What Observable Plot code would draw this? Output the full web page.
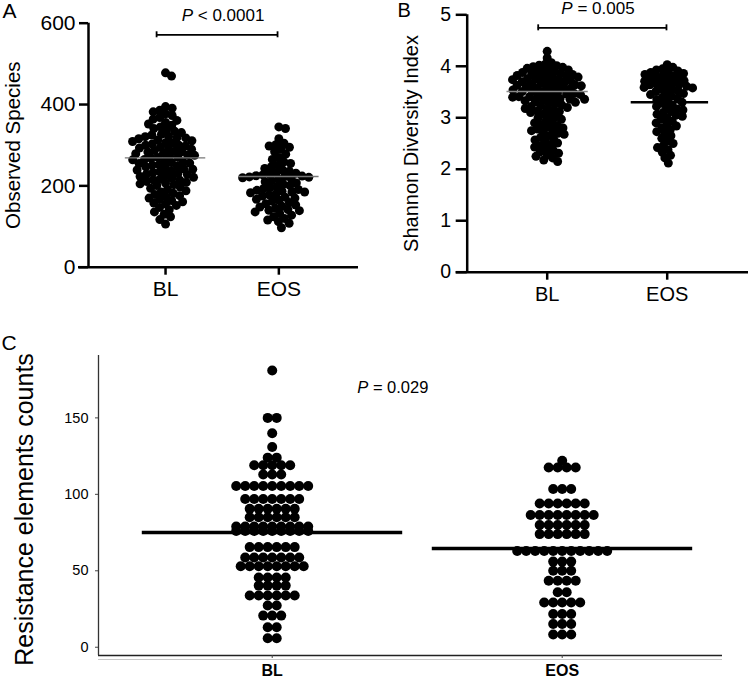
<!DOCTYPE html>
<html>
<head>
<meta charset="utf-8">
<script src="https://cdn.jsdelivr.net/npm/d3@7"></script>
<script src="https://cdn.jsdelivr.net/npm/@observablehq/plot@0.6"></script>
<style>
  body { margin: 0; background: #fff; }
  #fig { position: relative; width: 750px; height: 679px; overflow: hidden; }
</style>
</head>
<body>
<div id="fig"></div>
<script>
// ---- data ----
const groups = ["BL", "EOS"];

// A: observed species per sample
const observedBL = [478, 470,
  395, 391, 386, 382, 377, 373, 368, 364, 361, 356, 352, 349, 345, 341, 338, 334, 331,
  327, 325, 322, 321, 318, 318, 316, 313, 311, 309, 306, 305, 303, 300, 300, 298,
  295, 293, 291, 290, 287, 285, 284, 283, 280, 279, 276, 275, 273, 270, 270, 268,
  265, 264, 261, 259, 257, 256, 255, 252, 251, 248, 247, 244, 242, 241, 239, 236,
  235, 233, 230, 229, 228, 225, 223, 221, 219, 216, 215, 214, 211, 209, 207, 205,
  203, 201,
  197, 194, 191, 188, 185, 182, 179, 176, 173, 170, 167, 164, 161, 158, 155, 152,
  147, 141, 136, 130, 124, 117, 106];
const observedEOS = [345, 341, 316, 305, 301, 298, 295, 290, 284, 278,
  270, 265, 259, 255, 251, 247, 243, 239, 236, 233,
  231, 229, 227, 225, 224, 223, 222, 221, 220, 218,
  216, 213, 210, 207, 204, 201, 198, 196, 193, 191,
  189, 187, 185, 183, 180, 178, 175, 172, 170, 167,
  165, 162, 159, 156, 153, 150, 148, 145, 142, 139,
  136, 132, 128, 124, 120, 116, 112, 108, 97, 140, 185];
const observedMedian = [269, 223];

// B: Shannon diversity per sample
const shannonBL = [4.29, 4.16, 4.07,
  4.04, 4.02, 4.01, 3.99, 3.98, 3.96, 3.95, 3.93, 3.92, 3.90,
  3.89, 3.88, 3.86, 3.85, 3.84, 3.82, 3.81, 3.80, 3.79, 3.77,
  3.76, 3.75, 3.74, 3.72, 3.71, 3.70, 3.69, 3.68, 3.66, 3.65,
  3.64, 3.63, 3.62, 3.60, 3.59, 3.58, 3.57, 3.56, 3.54, 3.53,
  3.52, 3.51, 3.50, 3.48, 3.47, 3.46, 3.45, 3.43, 3.42, 3.41,
  3.40, 3.38, 3.37, 3.36, 3.34, 3.33, 3.31, 3.30,
  3.74, 3.83, 3.62, 3.27, 3.22, 3.16, 3.41, 3.36, 3.13,
  3.28, 3.25, 3.23, 3.20, 3.18, 3.15, 3.12, 3.10, 3.07, 3.05,
  3.02, 3.00, 2.97, 2.95, 2.92, 2.90, 2.87, 2.85, 2.82, 2.80,
  2.78, 2.75, 2.73, 2.70, 2.68, 2.65, 2.62, 2.60, 2.57, 2.54,
  2.51, 2.48, 2.46, 2.43, 2.40, 2.37, 2.34, 2.31, 2.28, 2.25,
  2.22, 2.18, 2.15, 2.76];
const shannonEOS = [4.03, 3.98, 3.95, 3.93, 3.91, 3.89, 3.88, 3.86, 3.84, 3.82,
  3.81, 3.79, 3.77, 3.76, 3.74, 3.72, 3.71, 3.69, 3.67, 3.66,
  3.65, 3.64, 3.62, 3.61, 3.59, 3.58, 3.56, 3.55, 3.53, 3.51,
  3.49, 3.47, 3.45, 3.42, 3.40, 3.38, 3.35, 3.33, 3.30, 3.28,
  3.25, 3.22, 3.20, 3.17, 3.15, 3.12, 3.10, 3.07, 3.05, 3.03, 3.00,
  2.97, 2.93, 2.90, 2.87, 2.84, 2.80, 2.77, 2.73, 2.70, 2.65,
  2.60, 2.55, 2.50, 2.46, 2.42, 2.38, 2.33, 2.27, 2.22, 2.12];
const shannonMedian = [3.51, 3.30];

// C: resistance element counts, binned (bin value, samples in bin)
const resistLevelsBL = [181, 150, 140, 131, 124, 119, 113, 105.5, 97, 90.5, 85, 79, 76, 65.5, 58.7, 53, 45.6, 40.3, 33.8, 27.3, 20.7, 13.1, 5.9];
const resistCountsBL = [1, 2, 1, 1, 2, 5, 3, 9, 7, 6, 6, 9, 9, 6, 7, 8, 4, 4, 6, 2, 3, 2, 2];
const resistLevelsEOS = [122, 117.5, 103.5, 94, 86.5, 80, 74, 63, 56, 50, 43.5, 36, 29.3, 21.7, 15.2, 8.3];
const resistCountsEOS = [1, 4, 3, 6, 8, 6, 6, 11, 3, 3, 4, 2, 5, 3, 3, 3];
const resistMedian = [75, 64.5];

const pLabels = ["P < 0.0001", "P = 0.005", "P = 0.029"];
const axisTitles = ["Observed Species", "Shannon Diversity Index", "Resistance elements counts"];
const panelLetters = ["A", "B", "C"];
const ticksA = [0, 200, 400, 600];
const ticksB = [0, 1, 2, 3, 4, 5];
const ticksC = [0, 50, 100, 150];

// ---- helpers ----
const FONT = "'Liberation Sans', Arial, Helvetica, sans-serif";
const fig = document.getElementById("fig");

// Beeswarm: place each value at the nearest free horizontal slot around its group centre
function swarm(series, sx, sy, minDist) {
  const out = [];
  series.forEach((vals, g) => {
    const cx = sx.apply(g);
    const placed = [];
    const order = vals.map(v => ({v, py: sy.apply(v)})).sort((a, b) => a.py - b.py);
    for (const p of order) {
      const near = placed.filter(q => Math.abs(q.py - p.py) < minDist);
      const cands = [0];
      for (const q of near) {
        const w = Math.sqrt(minDist * minDist - (q.py - p.py) ** 2);
        cands.push(q.px + w, q.px - w);
      }
      cands.sort((a, b) => Math.abs(a) - Math.abs(b));
      const px = cands.find(c => near.every(q => (q.px - c) ** 2 + (q.py - p.py) ** 2 >= minDist * minDist - 1e-6));
      placed.push({...p, px});
      out.push({group: g, value: p.v, x: sx.invert(cx + px)});
    }
  });
  return out;
}

// Dot plot: samples in the same bin sit side by side, centred on the group
function dotRows(levels, counts, g, sx, stepPx) {
  const cx = sx.apply(g);
  return levels.flatMap((v, i) =>
    d3.range(counts[i]).map(j => ({group: g, value: v, x: sx.invert(cx + (j - (counts[i] - 1) / 2) * stepPx)})));
}

// Italic "P" in the significance labels
function italicP(svg) {
  const ns = "http://www.w3.org/2000/svg";
  svg.querySelectorAll("text").forEach(t => {
    const s = t.textContent;
    if (/^P [<=]/.test(s)) {
      t.textContent = "";
      const p = document.createElementNS(ns, "tspan");
      p.setAttribute("font-style", "italic");
      p.textContent = "P";
      t.appendChild(p);
      t.appendChild(document.createTextNode(s.slice(1)));
    }
  });
}

function place(svg, left, top) {
  svg.style.position = "absolute";
  svg.style.left = left + "px";
  svg.style.top = top + "px";
  italicP(svg);
  fig.appendChild(svg);
}

const baseStyle = {background: "transparent", fontFamily: FONT, overflow: "visible", color: "#000"};
const intFormat = d => String(d);

// ---- Panel A ----
{
  const L = {width: 375, height: 310, ml: 88, mr: 17, mt: 22.7, mb: 43.3};
  const x = {type: "linear", domain: [-0.68, 1.703], range: [L.ml, L.width - L.mr]};
  const y = {type: "linear", domain: [0, 600], range: [L.height - L.mb, L.mt]};
  const sx = Plot.scale({x}), sy = Plot.scale({y});
  const dots = swarm([observedBL, observedEOS], sx, sy, 6.8);
  const cap = 3 / (sy.apply(0) - sy.apply(1));
  const bracketY = 571.5, bx = [-0.079, 0.9885];
  const svg = Plot.plot({
    width: L.width, height: L.height,
    marginLeft: L.ml, marginRight: L.mr, marginTop: L.mt, marginBottom: L.mb,
    x, y, style: baseStyle,
    marks: [
      Plot.ruleY([0], {insetLeft: -10, stroke: "#000", strokeWidth: 2.5}),
      Plot.ruleX([x.domain[0]], {y1: 0, y2: 600, stroke: "#000", strokeWidth: 2.5}),
      Plot.axisY({ticks: ticksA, tickFormat: intFormat, tickSize: 9, tickPadding: 4, fontSize: 21, strokeWidth: 2.5, label: null}),
      Plot.axisX({ticks: [0, 1], tickFormat: i => groups[i], tickSize: 8, tickPadding: 6, fontSize: 21, strokeWidth: 2.5, label: null}),
      Plot.dot(dots, {x: "x", y: "value", r: 4.5, fill: "#000"}),
      Plot.ruleY(observedMedian, {y: d => d, x1: (d, i) => i - 0.355, x2: (d, i) => i + 0.355, stroke: "#777", strokeWidth: 1.3}),
      Plot.ruleY([bracketY], {x1: bx[0], x2: bx[1], stroke: "#000", strokeWidth: 1.8}),
      Plot.ruleX(bx, {y1: bracketY - cap, y2: bracketY + cap, stroke: "#000", strokeWidth: 1.8}),
      Plot.text([pLabels[0]], {text: d => d, x: 0.5075, y: 604.9, lineAnchor: "bottom", fontSize: 17}),
      Plot.text([axisTitles[0]], {text: d => d, frameAnchor: "left", textAnchor: "middle", rotate: -90, dx: -75, fontSize: 20.5}),
      Plot.text([panelLetters[0]], {text: d => d, frameAnchor: "top-left", dx: -L.ml + 2, dy: -L.mt + 3, textAnchor: "start", lineAnchor: "top", fontSize: 21})
    ]
  });
  place(svg, 0, 0);
}

// ---- Panel B ----
{
  const L = {width: 375, height: 310, ml: 91.7, mr: 2, mt: 14.3, mb: 38.3};
  const x = {type: "linear", domain: [-0.6667, 1.6775], range: [L.ml, L.width - L.mr]};
  const y = {type: "linear", domain: [0, 5], range: [L.height - L.mb, L.mt]};
  const sx = Plot.scale({x}), sy = Plot.scale({y});
  const dots = swarm([shannonBL, shannonEOS], sx, sy, 6.2);
  const cap = 3 / (sy.apply(0) - sy.apply(1));
  const bracketY = 4.747, bx = [-0.075, 0.994];
  const svg = Plot.plot({
    width: L.width, height: L.height,
    marginLeft: L.ml, marginRight: L.mr, marginTop: L.mt, marginBottom: L.mb,
    x, y, style: baseStyle,
    marks: [
      Plot.ruleY([0], {insetLeft: -11, stroke: "#000", strokeWidth: 2.5}),
      Plot.ruleX([x.domain[0]], {y1: 0, y2: 5, stroke: "#000", strokeWidth: 2.5}),
      Plot.axisY({ticks: ticksB, tickFormat: intFormat, tickSize: 11, tickPadding: 5, fontSize: 19.5, strokeWidth: 2.5, label: null}),
      Plot.axisX({ticks: [0, 1], tickFormat: i => groups[i], tickSize: 8, tickPadding: 7, fontSize: 20, strokeWidth: 2.5, label: null}),
      Plot.dot(dots, {x: "x", y: "value", r: 4.5, fill: "#000"}),
      Plot.ruleY([shannonMedian[0]], {x1: -0.335, x2: 0.342, stroke: "#888", strokeWidth: 1.6}),
      Plot.ruleY([shannonMedian[1]], {x1: 1 - 0.3, x2: 1 + 0.345, stroke: "#000", strokeWidth: 2.4}),
      Plot.ruleY([bracketY], {x1: bx[0], x2: bx[1], stroke: "#000", strokeWidth: 1.8}),
      Plot.ruleX(bx, {y1: bracketY - cap, y2: bracketY + cap, stroke: "#000", strokeWidth: 1.8}),
      Plot.text([pLabels[1]], {text: d => d, x: 0.423, y: 5.025, lineAnchor: "bottom", fontSize: 17}),
      Plot.text([axisTitles[1]], {text: d => d, frameAnchor: "left", textAnchor: "middle", rotate: -90, dx: -55.7, fontSize: 20}),
      Plot.text([panelLetters[1]], {text: d => d, frameAnchor: "top-left", dx: -L.ml + 22, dy: -L.mt + 2, textAnchor: "start", lineAnchor: "top", fontSize: 20})
    ]
  });
  place(svg, 375, 0);
}

// ---- Panel C ----
{
  const L = {width: 750, height: 349, ml: 98, mr: 28, mt: 25, mb: 24};
  const x = {type: "linear", domain: [-0.599, 1.5528], range: [L.ml, L.width - L.mr]};
  const y = {type: "linear", domain: [-5.4, 190.8], range: [L.height - L.mb, L.mt]};
  const sx = Plot.scale({x});
  const dots = [
    ...dotRows(resistLevelsBL, resistCountsBL, 0, sx, 9),
    ...dotRows(resistLevelsEOS, resistCountsEOS, 1, sx, 9)
  ];
  const svg = Plot.plot({
    width: L.width, height: L.height,
    marginLeft: L.ml, marginRight: L.mr, marginTop: L.mt, marginBottom: L.mb,
    x, y, style: baseStyle,
    marks: [
      Plot.ruleY([y.domain[0]], {dy: 4, stroke: "#c8c8c8", strokeWidth: 1.2}),
      Plot.ruleY([y.domain[0]], {stroke: "#222", strokeWidth: 1.5}),
      Plot.ruleX([x.domain[0]], {y1: y.domain[0], y2: y.domain[1], stroke: "#333", strokeWidth: 1.3}),
      Plot.axisY({ticks: ticksC, tickFormat: intFormat, tickSize: 3, tickPadding: 7, fontSize: 14.5, stroke: "#444", label: null}),
      Plot.axisX({ticks: [0, 1], tickFormat: i => groups[i], tickSize: 3, tickPadding: 6, fontSize: 16, fontWeight: "bold", stroke: "#444", label: null}),
      Plot.dot(dots, {x: "x", y: "value", r: 5, fill: "#000"}),
      Plot.ruleY(resistMedian, {y: d => d, x1: (d, i) => i - 0.448, x2: (d, i) => i + 0.45, stroke: "#000", strokeWidth: 3.5}),
      Plot.text([pLabels[2]], {text: d => d, x: 0.416, y: 166.6, lineAnchor: "bottom", fontSize: 16.5}),
      Plot.text([axisTitles[2]], {text: d => d, frameAnchor: "left", textAnchor: "middle", rotate: -90, dx: -74, dy: 4, fontSize: 25}),
      Plot.text([panelLetters[2]], {text: d => d, frameAnchor: "top-left", dx: -L.ml + 1, dy: -L.mt + 5, textAnchor: "start", lineAnchor: "top", fontSize: 21})
    ]
  });
  place(svg, 0, 330);
}
</script>
</body>
</html>
